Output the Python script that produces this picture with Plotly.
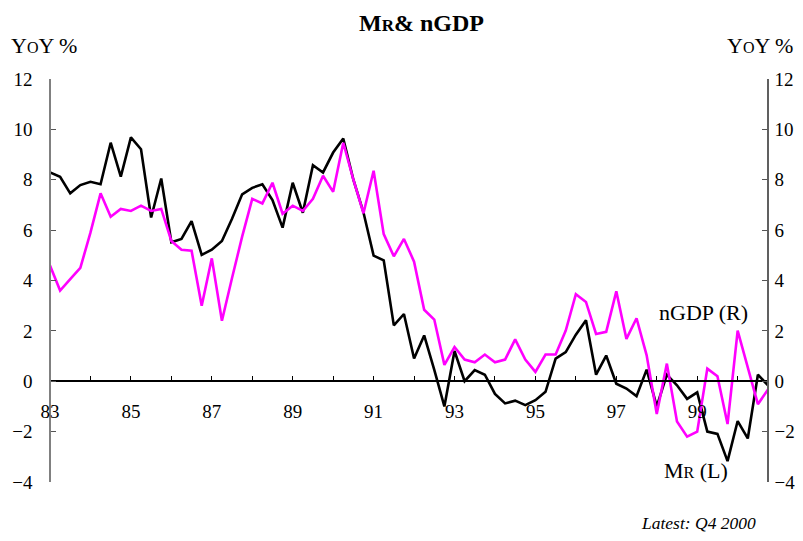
import plotly.graph_objects as go

# ---- data (quarterly, 1983 Q1 .. 2000 Q4) ----
start_year = 1983
n_quarters = 72
quarter_x = [start_year + q * 0.25 for q in range(n_quarters)]

mr_values = [
    8.29, 8.12, 7.46, 7.79, 7.92, 7.82, 9.47, 8.12,
    9.68, 9.21, 6.50, 8.05, 5.52, 5.65, 6.36, 5.02,
    5.22, 5.57, 6.45, 7.42, 7.68, 7.82, 7.19, 6.10,
    7.88, 6.69, 8.58, 8.29, 9.08, 9.64, 8.00, 6.70,
    4.99, 4.80, 2.22, 2.67, 0.90, 1.82, 0.45, -1.00,
    1.20, 0.00, 0.44, 0.26, -0.50, -0.88, -0.77, -0.95,
    -0.75, -0.42, 0.90, 1.16, 1.85, 2.42, 0.26, 1.02,
    -0.10, -0.29, -0.59, 0.46, -1.00, 0.26, -0.16, -0.70,
    -0.44, -2.00, -2.09, -3.17, -1.58, -2.27, 0.26, -0.16,
]

ngdp_values = [
    4.60, 3.60, 4.05, 4.50, 5.90, 7.46, 6.53, 6.84,
    6.76, 6.97, 6.76, 6.84, 5.57, 5.22, 5.18, 3.00,
    4.88, 2.40, 4.10, 5.74, 7.24, 7.06, 7.88, 6.65,
    6.97, 6.76, 7.24, 8.16, 7.52, 9.47, 8.00, 6.67,
    8.36, 5.84, 4.96, 5.65, 4.75, 2.84, 2.45, 0.65,
    1.36, 0.86, 0.75, 1.06, 0.75, 0.86, 1.66, 0.86,
    0.37, 1.06, 1.06, 2.01, 3.46, 3.15, 1.88, 1.96,
    3.57, 1.68, 2.50, 1.03, -1.30, 0.70, -1.60, -2.20,
    -2.00, 0.50, 0.20, -1.70, 2.01, 0.57, -0.91, -0.33,
]

year_ticks = list(range(1983, 2001))
year_labels = [f"{y % 100:02d}" if y % 2 == 1 else "" for y in year_ticks]
y_ticks = [-4, -2, 0, 2, 4, 6, 8, 10, 12]

# ---- figure ----
OFF = 8                      # page body margin offset
W, H = 803 - 2 * OFF, 541 - 2 * OFF
PL, PR, PT, PB = 50, 768, 79, 482   # plot area in page pixels
ML, MR_, MT, MB = PL - OFF, W - (PR - OFF), PT - OFF, H - (PB - OFF)
FONT = "Liberation Serif"

def px(xp):
    return (xp - PL) / (PR - PL)

def py(yp):
    return (PB - yp) / (PB - PT)

fig = go.Figure()
fig.add_trace(go.Scatter(x=quarter_x, y=mr_values, mode="lines", name="MR (L)",
                         line=dict(color="#000000", width=2.6), yaxis="y"))
fig.add_trace(go.Scatter(x=quarter_x, y=ngdp_values, mode="lines", name="nGDP (R)",
                         line=dict(color="#FF00FF", width=2.6), yaxis="y2"))

fig.update_layout(
    width=W, height=H,
    margin=dict(l=ML, r=MR_, t=MT, b=MB, autoexpand=False),
    paper_bgcolor="white", plot_bgcolor="white",
    showlegend=False,
    font=dict(family=FONT, size=19, color="black"),
    xaxis=dict(
        range=[start_year, start_year + (n_quarters - 1) * 0.25],
        tickmode="array", tickvals=year_ticks, ticktext=year_labels,
        ticks="inside", ticklen=5, tickwidth=1, tickcolor="black",
        showline=True, linecolor="black", linewidth=1.5,
        showgrid=False, zeroline=False, automargin=False,
        anchor="free", position=0.25,
        ticklabelstandoff=13,
        tickfont=dict(family=FONT, size=19),
    ),
    yaxis=dict(
        range=[-4, 12], tickmode="array", tickvals=y_ticks,
        ticks="inside", ticklen=5, tickcolor="#555555",
        showline=True, linecolor="#808080", linewidth=1.5,
        showgrid=False, zeroline=False, automargin=False,
        anchor="free", position=0,
        ticklabelstandoff=13,
        tickfont=dict(family=FONT, size=19),
    ),
    yaxis2=dict(
        range=[-4, 12], tickmode="array", tickvals=y_ticks,
        ticks="inside", ticklen=5, tickcolor="#555555",
        showline=True, linecolor="#606060", linewidth=1.5,
        showgrid=False, zeroline=False, automargin=False,
        overlaying="y", side="right", anchor="free", position=1,
        ticklabelstandoff=2,
        tickfont=dict(family=FONT, size=19),
    ),
)

ann = [
    dict(text="<b>M<span style='font-size:17px'>R</span>& nGDP</b>",
         x=px(421), y=py(OFF), yanchor="top", font=dict(size=24)),
    dict(text="Y<span style='font-size:16px'>O</span>Y %", x=px(44), y=py(45), font=dict(size=22)),
    dict(text="Y<span style='font-size:16px'>O</span>Y %", x=px(760), y=py(45), font=dict(size=22)),
    dict(text="nGDP (R)", x=px(703), y=py(312), font=dict(size=22)),
    dict(text="M<span style='font-size:16px'>R</span> (L)", x=px(696), y=py(470), font=dict(size=22)),
    dict(text="<i>Latest: Q4 2000</i>", x=px(698), y=py(523), font=dict(size=17.5)),
]
for a in ann:
    a.setdefault("yanchor", "middle")
    a.update(xref="paper", yref="paper", showarrow=False, xanchor="center")
    a["font"] = dict(family=FONT, color="black", **a["font"])
    fig.add_annotation(**a)

fig.write_html("out.html")
